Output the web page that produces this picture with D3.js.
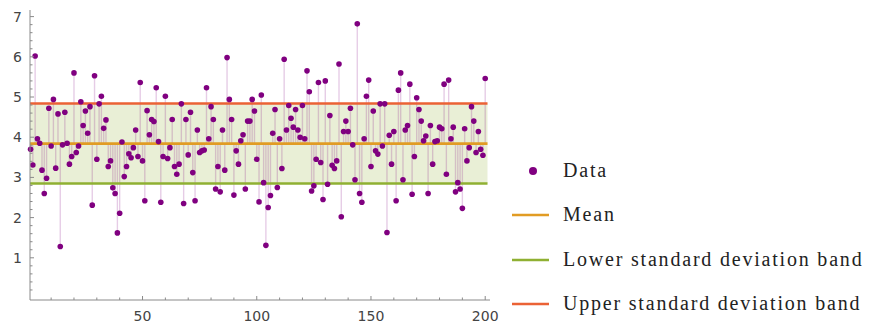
<!DOCTYPE html>
<html><head><meta charset="utf-8">
<script src="https://cdn.jsdelivr.net/npm/d3@7"></script>
<style>body{margin:0;background:#fff}svg{display:block}</style>
</head><body>
<script>
const dataValues = [
3.70,3.31,6.02,3.96,3.85,3.18,2.60,2.98,4.72,3.78,4.94,3.23,4.58,1.28,3.81,4.62,3.85,3.33,
3.52,5.60,3.62,3.78,4.88,4.29,4.65,4.10,4.76,2.31,5.53,3.45,4.83,5.02,4.22,4.43,
3.27,3.41,2.74,2.60,1.62,2.11,3.88,3.02,3.27,3.59,3.49,3.74,4.18,3.52,5.36,3.41,2.42,
4.66,4.06,4.44,4.39,5.23,3.89,2.38,3.52,5.02,3.47,3.74,4.44,3.27,3.08,3.33,4.83,2.35,
4.44,3.56,4.62,3.12,2.42,4.18,3.62,3.66,3.68,5.23,3.96,4.76,4.44,2.71,3.27,2.64,
4.18,3.18,5.98,4.94,4.44,2.56,3.66,3.33,3.91,4.06,2.71,4.40,4.40,4.94,4.65,3.45,2.39,
5.05,2.87,1.31,2.25,2.55,4.10,4.69,2.75,3.96,3.22,5.94,4.18,4.79,4.47,4.25,4.69,4.18,
4.00,4.79,3.96,5.65,5.13,2.66,2.79,3.45,5.36,3.37,2.45,5.40,2.83,4.54,3.30,3.22,
3.41,5.82,2.02,4.14,4.40,4.14,4.72,3.81,2.94,6.82,2.60,2.38,3.96,5.02,5.42,3.27,4.65,
3.66,3.58,4.83,3.78,4.83,1.63,4.05,3.33,4.14,2.42,5.17,5.60,2.94,4.18,4.29,5.32,
2.58,3.52,4.98,4.69,4.40,3.91,4.03,2.60,4.29,3.33,3.89,3.91,4.25,4.21,5.32,3.08,5.42,
3.96,4.25,2.64,2.87,2.71,2.23,4.21,3.41,3.74,4.76,4.40,3.62,4.14,3.70,3.55,5.46
];
const meanValue = 3.84;
const lowerBand = 2.85;
const upperBand = 4.84;
const xTickValues = [50, 100, 150, 200];
const yTickValues = [1, 2, 3, 4, 5, 6, 7];
const legendLabels = ["Data", "Mean", "Lower standard deviation band", "Upper standard deviation band"];
const legendColors = ["#800080", "#E19C24", "#8FB032", "#EB6235"];

const W = 876, H = 327;
const svg = d3.select("body").append("svg").attr("width", W).attr("height", H);

const x = d3.scaleLinear().domain([0.75, 201]).range([30, 487.5]);
const y = d3.scaleLinear().domain([0, 7]).range([298, 16.6]);
const xAxisY = 300;

svg.append("rect")
  .attr("x", x(0.75)).attr("width", x(201) - x(0.75))
  .attr("y", y(upperBand)).attr("height", y(lowerBand) - y(upperBand))
  .attr("fill", "#8FB032").attr("fill-opacity", 0.2);

const pts = dataValues.map((v, i) => ({i: i + 1, v}));
svg.append("g").selectAll("line").data(pts).join("line")
  .attr("x1", d => x(d.i)).attr("x2", d => x(d.i))
  .attr("y1", y(meanValue)).attr("y2", d => y(d.v))
  .attr("stroke", "#800080").attr("stroke-opacity", 0.2).attr("stroke-width", 1.4);

[[lowerBand, legendColors[2]], [upperBand, legendColors[3]], [meanValue, legendColors[1]]].forEach(([v, c]) => {
  svg.append("line").attr("x1", x(0.75)).attr("x2", x(201))
    .attr("y1", y(v)).attr("y2", y(v)).attr("stroke", c).attr("stroke-width", 2.6);
});

svg.append("g").selectAll("circle").data(pts).join("circle")
  .attr("cx", d => x(d.i)).attr("cy", d => y(d.v)).attr("r", 2.8)
  .attr("fill", "#800080");

const axisColor = "#8a8a8a";
const g = svg.append("g");
g.append("line").attr("x1", 30).attr("x2", 490).attr("y1", xAxisY).attr("y2", xAxisY).attr("stroke", axisColor);
g.append("line").attr("x1", 30).attr("x2", 30).attr("y1", 10).attr("y2", xAxisY).attr("stroke", axisColor);

const xMinor = d3.range(10, 201, 10);
g.selectAll(".xt").data(xMinor).join("line")
  .attr("x1", d => x(d)).attr("x2", d => x(d))
  .attr("y1", xAxisY).attr("y2", d => xAxisY - (d % 50 === 0 ? 4 : 2.5))
  .attr("stroke", axisColor);
const yMinor = d3.range(0.2, 7.15, 0.2);
g.selectAll(".yt").data(yMinor).join("line")
  .attr("y1", d => y(d)).attr("y2", d => y(d))
  .attr("x1", 30).attr("x2", d => 30 + (Math.abs(d - Math.round(d)) < 1e-6 ? 4 : 2.5))
  .attr("stroke", axisColor);

g.selectAll(".xl").data(xTickValues).join("text")
  .attr("x", d => x(d)).attr("y", 321).attr("text-anchor", "middle")
  .attr("font-family", "DejaVu Sans, sans-serif").attr("font-size", 14).attr("fill", "#444")
  .text(d => d);
g.selectAll(".yl").data(yTickValues).join("text")
  .attr("x", 22).attr("y", d => y(d) + 5).attr("text-anchor", "end")
  .attr("font-family", "DejaVu Sans, sans-serif").attr("font-size", 14).attr("fill", "#444")
  .text(d => d);

const legY = [171, 215, 260, 304];
const lg = svg.append("g");
lg.append("circle").attr("cx", 533).attr("cy", legY[0]).attr("r", 4).attr("fill", legendColors[0]);
[1, 2, 3].forEach(k => {
  lg.append("line").attr("x1", 512).attr("x2", 549).attr("y1", legY[k]).attr("y2", legY[k])
    .attr("stroke", legendColors[k]).attr("stroke-width", 2.6);
});
lg.selectAll("text").data(legendLabels).join("text")
  .attr("x", 563).attr("y", (d, k) => legY[k] + 6)
  .attr("font-family", "Liberation Serif, serif").attr("font-size", 20)
  .attr("letter-spacing", 1.8).attr("fill", "#222")
  .text(d => d);
</script>
</body></html>
